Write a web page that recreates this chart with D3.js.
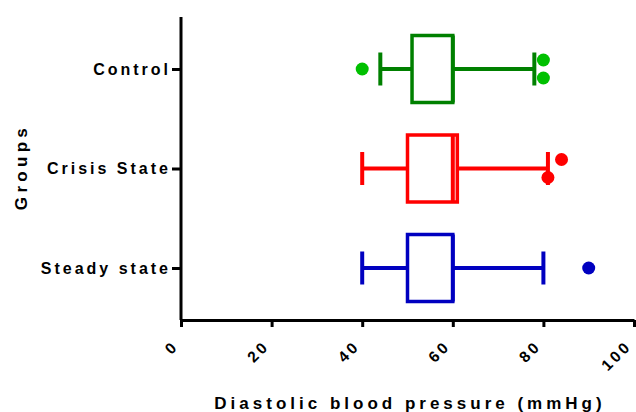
<!DOCTYPE html>
<html>
<head>
<meta charset="utf-8">
<script src="https://cdn.jsdelivr.net/npm/d3@7"></script>
<style>
  body { margin: 0; background: #fff; }
  text { font-family: "Liberation Sans", Arial, sans-serif; font-weight: bold; }
</style>
</head>
<body>
<div id="container"></div>
<script>
// data
const groups = ["Control", "Crisis State", "Steady state"]
const whiskerLow = [44, 40, 40]
const q1 = [51, 50, 50]
const median = [60, 60, 60]
const q3 = [60, 61, 60]
const whiskerHigh = [78, 81, 80]
const outlierGroup = ["Control", "Control", "Control", "Crisis State", "Crisis State", "Steady state"]
const outlierValue = [40, 80, 80, 84, 81, 90]
const outlierShift = [0, -1, 1, -1, 1, 0]
const xTicks = [0, 20, 40, 60, 80, 100]

const boxColor = ["#008000", "#ff0000", "#0000c0"]
const dotColor = ["#00c000", "#ff0000", "#0000c0"]

const w = 636, h = 412
const m = { top: 17, right: 2, bottom: 92, left: 181 }

const svg = d3.select("#container").append("svg")
  .attr("width", w).attr("height", h)

const x = d3.scaleLinear().domain([0, 100]).range([m.left, w - m.right])
const y = d3.scalePoint().domain(groups).range([69, 268])

// x axis
const xAxis = svg.append("g")
  .attr("transform", `translate(0,${h - m.bottom})`)
  .call(d3.axisBottom(x).tickValues(xTicks).tickSize(7).tickSizeOuter(0))
xAxis.select(".domain").attr("stroke", "#000").attr("stroke-width", 3)
xAxis.selectAll(".tick line").attr("stroke", "#000").attr("stroke-width", 3)
xAxis.selectAll(".tick text")
  .attr("font-size", 15.5).attr("letter-spacing", 3).attr("fill", "#000")
  .attr("text-anchor", "end")
  .attr("x", 0).attr("y", 0).attr("dy", 0)
  .attr("transform", "translate(-2,27) rotate(-45)")

// y axis
const yAxis = svg.append("g")
  .attr("transform", `translate(${m.left},0)`)
  .call(d3.axisLeft(y).tickSize(9).tickSizeOuter(0).tickPadding(1))
yAxis.select(".domain").attr("d", `M0,${m.top}V${h - m.bottom}`)
  .attr("stroke", "#000").attr("stroke-width", 3)
yAxis.selectAll(".tick line").attr("stroke", "#000").attr("stroke-width", 3)
yAxis.selectAll(".tick text")
  .attr("font-size", 16).attr("letter-spacing", 3).attr("fill", "#000")

// axis titles
svg.append("text")
  .attr("x", 410).attr("y", 409)
  .attr("text-anchor", "middle")
  .attr("font-size", 17).attr("letter-spacing", 4)
  .text("Diastolic blood pressure (mmHg)")

svg.append("text")
  .attr("transform", "translate(27,167) rotate(-90)")
  .attr("text-anchor", "middle")
  .attr("font-size", 17).attr("letter-spacing", 4.3)
  .text("Groups")

// boxes
const boxH = 67, capH = 33
const boxes = svg.append("g").selectAll("g")
  .data(groups)
  .join("g")

boxes.append("line")
  .attr("x1", (d, i) => x(whiskerLow[i])).attr("x2", (d, i) => x(q1[i]))
  .attr("y1", d => y(d)).attr("y2", d => y(d))
  .attr("stroke", (d, i) => boxColor[i]).attr("stroke-width", 4)
boxes.append("line")
  .attr("x1", (d, i) => x(q3[i])).attr("x2", (d, i) => x(whiskerHigh[i]))
  .attr("y1", d => y(d)).attr("y2", d => y(d))
  .attr("stroke", (d, i) => boxColor[i]).attr("stroke-width", 4)
boxes.append("line")
  .attr("x1", (d, i) => x(whiskerLow[i])).attr("x2", (d, i) => x(whiskerLow[i]))
  .attr("y1", d => y(d) - capH / 2).attr("y2", d => y(d) + capH / 2)
  .attr("stroke", (d, i) => boxColor[i]).attr("stroke-width", 4)
boxes.append("line")
  .attr("x1", (d, i) => x(whiskerHigh[i])).attr("x2", (d, i) => x(whiskerHigh[i]))
  .attr("y1", d => y(d) - capH / 2).attr("y2", d => y(d) + capH / 2)
  .attr("stroke", (d, i) => boxColor[i]).attr("stroke-width", 4)
boxes.append("rect")
  .attr("x", (d, i) => x(q1[i])).attr("width", (d, i) => x(q3[i]) - x(q1[i]))
  .attr("y", d => y(d) - boxH / 2).attr("height", boxH)
  .attr("fill", "#fff")
  .attr("stroke", (d, i) => boxColor[i]).attr("stroke-width", 3.5)
boxes.append("line")
  .attr("x1", (d, i) => x(median[i])).attr("x2", (d, i) => x(median[i]))
  .attr("y1", d => y(d) - boxH / 2).attr("y2", d => y(d) + boxH / 2)
  .attr("stroke", (d, i) => boxColor[i]).attr("stroke-width", 4)

// outliers
svg.append("g").selectAll("circle")
  .data(outlierValue)
  .join("circle")
  .attr("cx", d => x(d))
  .attr("cy", (d, i) => y(outlierGroup[i]) + outlierShift[i] * 9)
  .attr("r", 6.5)
  .attr("fill", (d, i) => dotColor[groups.indexOf(outlierGroup[i])])
</script>
</body>
</html>
